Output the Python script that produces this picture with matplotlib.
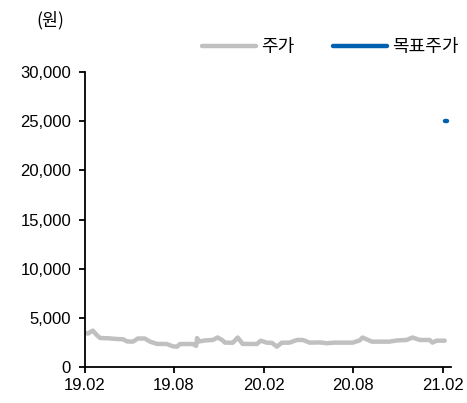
import matplotlib
matplotlib.use("Agg")
import matplotlib.pyplot as plt
import matplotlib.ticker as mticker
import pandas as pd

plt.rcParams['font.family'] = ['Liberation Sans', 'Noto Sans CJK KR', 'DejaVu Sans']

base = pd.Timestamp('2019-02-01')
price_days = [0, 6, 16, 24, 31, 47, 65, 78, 86, 98, 108, 122, 133, 147, 167, 180, 188, 194,
              220, 227, 229, 233, 245, 261, 271, 280, 286, 302, 312, 322, 351, 359, 371, 382,
              392, 402, 418, 433, 445, 459, 480, 494, 510, 547, 561, 567, 576, 586, 622, 637,
              657, 669, 684, 704, 710, 718, 735]
price_vals = [3490, 3400, 3700, 3250, 2950, 2920, 2850, 2820, 2600, 2580, 2900, 2900, 2580,
              2350, 2340, 2100, 2070, 2340, 2340, 2150, 2950, 2600, 2700, 2750, 3000, 2750,
              2480, 2470, 3000, 2350, 2340, 2680, 2480, 2450, 2070, 2470, 2480, 2750, 2750,
              2480, 2500, 2420, 2480, 2480, 2700, 3000, 2800, 2580, 2580, 2700, 2750, 3000,
              2750, 2750, 2480, 2680, 2680]
target_days = [735, 739]
target_vals = [25000, 25000]

xtick_labels = ['19.02', '19.08', '20.02', '20.08', '21.02']
xtick_dates = ['2019-02-01', '2019-08-01', '2020-02-01', '2020-08-01', '2021-02-01']

price_dates = [base + pd.Timedelta(days=d) for d in price_days]
target_dates = [base + pd.Timedelta(days=d) for d in target_days]

fig = plt.figure(figsize=(4.67, 4.03), dpi=100)
ax = fig.add_axes([0.182, 0.0893, 0.784, 0.732])

ax.plot(price_dates, price_vals, color='#C0C0C0', lw=3.2, solid_capstyle='round',
        solid_joinstyle='round', label='주가')
ax.plot(target_dates, target_vals, color='#0060B0', lw=3.2, solid_capstyle='round', label='목표주가')

ax.set_ylim(0, 30000)
ax.set_yticks(range(0, 30001, 5000))
ax.yaxis.set_major_formatter(mticker.FuncFormatter(lambda v, p: f'{int(v):,}'))
ax.set_xlim(pd.Timestamp('2019-02-01'), pd.Timestamp('2021-02-18'))
ax.set_xticks([pd.Timestamp(d) for d in xtick_dates])
ax.set_xticklabels(xtick_labels)

for s in ['top', 'right']:
    ax.spines[s].set_visible(False)
for s in ['left', 'bottom']:
    ax.spines[s].set_linewidth(1.3)
    ax.spines[s].set_color('black')
ax.tick_params(axis='both', direction='out', length=4, width=1.3, labelsize=12, colors='black')
ax.tick_params(axis='y', pad=6)
ax.tick_params(axis='x', pad=4)

fig.text(0.078, 0.95, '(원)', fontsize=12.5, family=['Noto Sans CJK KR', 'DejaVu Sans'], va='center')

leg = fig.legend(loc='center right', bbox_to_anchor=(0.982, 0.883), ncol=2, frameon=False,
                 borderpad=0, borderaxespad=0,
                 handlelength=3.0, handletextpad=0.3, columnspacing=2.1,
                 prop={'family': ['Noto Sans CJK KR', 'DejaVu Sans'], 'size': 13})

fig.savefig('out.png', dpi=100)
